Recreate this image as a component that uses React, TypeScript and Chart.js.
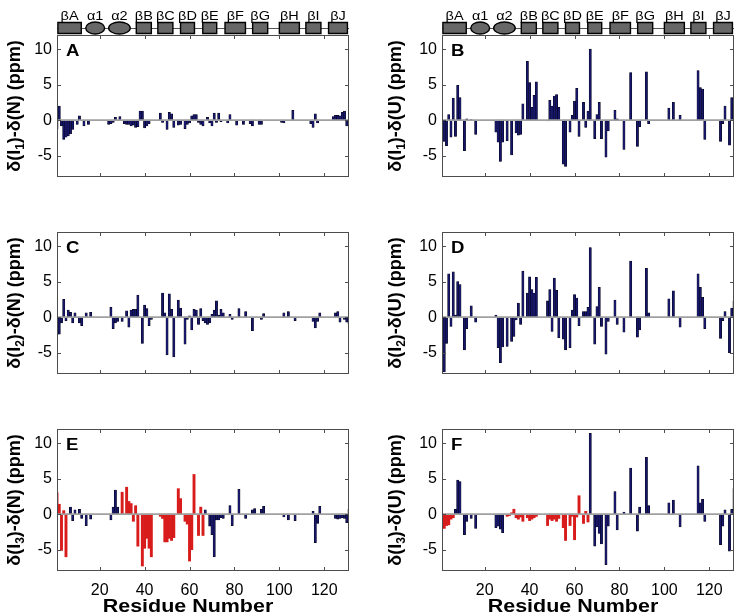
import React, { useEffect, useRef } from 'react';
import { Chart, registerables } from 'chart.js';

Chart.register(...registerables);

const FONT = '"Liberation Sans", Arial, Helvetica, sans-serif';
const NAVY = '#16166a';
const NAVY_EDGE = '#000010';
const RED = '#d81c1c';
const STRETCH = 1.16;

const xTicks = [20, 40, 60, 80, 100, 120];
const yTicks = [-5, 0, 5, 10];
const residueMin = 1;
const residueMax = 131;
const yMin = -8;
const yMax = 12;

// secondary structure elements (residue coordinates)
const ssLabels = ['βA', 'α1', 'α2', 'βB', 'βC', 'βD', 'βE', 'βF', 'βG', 'βH', 'βI', 'βJ'];
const ssStart = [1.4, 13.8, 24.0, 36.3, 45.9, 56.0, 65.9, 75.8, 88.1, 100.0, 111.8, 121.9];
const ssEnd = [11.8, 22.2, 33.6, 43.0, 52.6, 62.2, 72.1, 84.9, 94.8, 108.9, 118.5, 130.3];
const ssShape = ['rect', 'ellipse', 'ellipse', 'rect', 'rect', 'rect', 'rect', 'rect', 'rect', 'rect', 'rect', 'rect'];

// Panel A: δ(I1) - δ(N), residues 1..131
const shiftI1N = [
  -1.2, 2.0, -0.8, -2.7, -2.4, -2.2, -1.9, -1.3, 0, -0.6,
  0.6, 0, -0.8, 0, -0.6, 0, 0, 0, 0, 0,
  0, 0, 0, -0.6, -0.5, -0.3, 0.4, 0, 0.5, 0,
  -0.5, -0.6, -0.6, -0.8, -0.7, -1.0, -0.9, 1.3, 1.3, -1.1,
  -0.8, -0.5, 0, 0, 0, 0, 1.0, -0.3, 0, -1.3,
  1.1, 0.9, -1.0, 0, -0.7, -0.6, 0, -1.2, -0.6, -0.4,
  0.6, 0.8, 0.8, -0.3, -0.6, -0.8, 0, 0.4, -0.4, -0.8,
  1.0, -0.3, 1.0, -0.2, 0, 0, -0.4, 0.8, 0, 0,
  -0.7, 0, 0, -0.6, 0, 0, -0.5, -0.8, 0, 0,
  -0.6, -0.6, 0, 0, 0, 0, 0, 0, 0, 0,
  -0.3, -0.4, 0, 0, 0, 1.4, 0, 0, 0, 0,
  0, 0, 0, -0.5, -1.0, 0.9, -0.4, 0, 0, 0,
  0, 0, 0, 0.5, 0.7, 0.7, 0.6, 1.1, 1.3, -0.8, 0,
];

// Panel B: δ(I1) - δ(U)
const shiftI1U = [
  -2.8, -3.0, -3.6, 0.8, -2.4, 3.1, -2.3, 4.9, 3.2, 0,
  -4.3, 0.2, 0, 0.1, 0, -2.0, 0, 0, 0, 0,
  0, 0, 0, 0, -1.7, -3.1, -5.8, -3.1, 0, -2.9,
  0, -4.9, 0, -1.8, -2.1, -2.0, 2.3, 0, 8.3, 5.3,
  1.8, 3.5, 5.4, 0, 0, 0, 0, -0.1, 2.8, 2.0,
  3.4, 3.6, 1.8, 0, -6.2, -6.5, 0, -1.7, 0.7, 2.7,
  4.5, -2.3, 0, 2.5, -1.0, 1.3, 10.0, 0, -2.6, 0.8,
  2.5, -2.6, 0, -5.2, -1.5, 0, 0, 1.4, 0.2, 0,
  0, -4.1, 0, 0, 6.7, 0, 0, -3.7, -0.9, 0,
  0, 6.8, -0.5, 0, 0, 0, 0, 0, 0, 0,
  0, 1.7, 0, 2.5, 0, 0, 0.7, 0, 0, 0,
  0, 0, 0, 0, 7.0, 4.6, 4.4, -2.7, 0, 0,
  0, 0, 0, 0, -3.0, -0.5, 2.0, 0, -3.5, 3.2, 2.3,
];

// Panel C: δ(I2) - δ(N)
const shiftI2N = [
  -2.5, -2.4, -0.8, 2.5, -0.5, 1.0, 0.7, -0.8, 0.6, 0,
  -0.8, -1.2, 0, 0.6, 0, 0.7, 0, 0, 0, 0,
  0, 0, 0, 0, 1.4, -1.6, -0.8, -0.6, 0, -0.6,
  0, 0.9, -1.4, 1.0, 1.1, 1.1, 3.1, 0, -3.7, 1.7,
  1.2, -1.2, -0.3, 0, 0, 0, 0, 3.4, 0.6, -5.3,
  3.3, 1.1, -5.6, 0, 2.4, 1.3, 0, -3.8, -0.3, 0.2,
  -1.8, 1.1, 1.0, -1.0, 1.2, -0.5, -0.8, -1.0, -0.8, 0.4,
  1.0, 2.3, 0.3, 1.1, 0.6, 0, 0, 0.4, -0.3, 0,
  0, 1.2, 0, 0, 0.8, 0, 0, -1.9, 0, 0,
  0, -0.3, 0.5, 0, 0, 0, 0, 0, 0, 0,
  0, 0.6, 0, 0.8, 0, 0, -0.5, 0, 0, 0,
  0, 0, 0, 0, -0.6, -1.5, -0.6, 0.6, 0, 0,
  0, 0, 0, 0, 0.6, 0.8, -0.7, 0, -0.3, -0.7, -0.9,
];

// Panel D: δ(I2) - δ(U)
const shiftI2U = [
  -3.8, -7.7, -3.7, 6.1, -1.3, 6.4, 0.3, 5.0, 4.6, 0,
  -4.6, -1.6, 0, 1.6, 0, -0.7, 0, 0, 0, 0,
  0, 0, 0, 0, 0.3, -4.3, -6.4, -4.2, 0, -4.1,
  0, -3.4, -2.7, -0.4, 2.0, -1.0, 6.5, 0, 3.4, 5.7,
  3.9, 3.4, 5.6, 0, 0, 0, 0, 2.3, 3.9, -2.0,
  5.5, 3.8, -2.9, 0, -3.1, -4.6, 0, -4.3, 1.0, 3.2,
  2.7, -1.2, 0, 0.8, 0.8, 1.4, 9.8, 0, -3.8, 1.5,
  4.2, -1.3, 0, -5.2, -0.6, 0, 0, 2.4, -1.0, 0,
  0, -2.1, 0, 0, 7.9, 0, 0, -2.8, -1.8, 0,
  0, 6.9, 0.6, 0, 0, 0, 0, 0, 0, 0,
  0, 2.6, 0, 3.7, 0, 0, -1.4, 0, 0, 0,
  0, 0, 0, 0, 6.1, 4.2, 2.8, -1.6, 0, 0,
  0, 0, 0, 0, -3.0, -0.5, 0.8, 0, -5.0, 1.3, 2.3,
];

// Panel E: δ(I3) - δ(N)
const shiftI3N = [
  3.0, 1.4, -5.1, 0.5, -6.0, 0, 1.0, -0.9, 0.6, 0,
  0.7, -0.6, 0, -1.6, 0, -0.7, 0, 0, 0, 0,
  0, 0, 0, 0, -0.8, 1.0, 3.4, 1.0, 0, 3.1,
  0, 3.8, 1.8, 1.5, -1.0, 1.2, -4.5, 0, -7.3, -4.8,
  -3.4, -4.8, -6.0, 0, 0, 0, -0.3, -0.6, -3.9, -3.9,
  -3.4, -3.7, -3.3, 0, 3.6, 2.2, 0, -1.0, -1.4, -6.6,
  -5.0, 5.6, 0, -3.0, 1.0, -3.0, 0.6, 0, -1.7, -2.9,
  -6.0, -0.8, -0.8, -0.5, -0.6, 0, 0, 1.2, -1.6, 0,
  0, 3.5, 0, 0, -0.6, 0, 0, 0.6, 0.8, 0,
  0, 0.7, 1.1, 0, 0, 0, 0, 0, 0, 0,
  0, -0.4, 0, -0.8, 0, 0, -0.9, 0, 0, 0,
  0, 0, 0, 0, 0.4, -4.0, -1.3, 1.1, 0, 0,
  0, 0, 0, 0, -0.6, -0.7, -0.6, -0.5, -0.6, -1.2, 0.7,
];

// Panel F: δ(I3) - δ(U)
const shiftI3U = [
  -2.0, -2.0, -1.6, -1.5, -0.7, -0.5, 0.7, 4.8, 4.6, 0,
  -2.9, -1.0, 0, -0.6, 0, -2.0, 0, 0, 0, 0,
  0, 0, 0, 0, -1.9, -1.7, -2.1, -2.6, 0, -0.3,
  -0.2, 0.2, 0.7, -0.5, -0.7, -0.4, -1.0, 0, -0.5, -0.9,
  -0.7, -0.5, -0.3, 0, 0, 0, 0, -1.6, -0.7, -0.9,
  -0.7, -1.0, -0.6, 0, -1.9, -3.7, 0, -1.6, -0.3, -3.6,
  -0.4, 2.6, 0, -1.3, 0.4, -1.1, 11.4, 0, -4.5, -1.8,
  -2.7, -4.2, 0, -7.1, -1.7, 0, 0, 3.2, -2.2, 0,
  0, 0.3, 0, 0, 6.5, 0, 0, -2.4, 1.0, 0,
  0, 8.0, 1.2, 0, 0, 0, 0, 0, 0, 0,
  0, 1.6, 0, 2.0, 0, 0, -1.8, 0, 0, 0,
  0, 0, 0, 0, 6.8, 1.6, 2.1, -1.0, 0, 0,
  0, 0, 0, 0, -4.3, -1.7, 0.6, 0, -5.2, 0.7, 3.6,
];

// residue ranges drawn in red
const redRangesI3N = [[1, 5], [30, 43], [47, 66]];
const redRangesI3U = [[1, 6], [30, 43], [47, 66]];

function inRanges(r: number, ranges: number[][]) {
  return ranges.some(([a, b]) => r >= a && r <= b);
}

type PanelProps = {
  left: number;
  top: number;
  width: number;
  height: number;
  area: { left: number; top: number; right: number; bottom: number };
  values: number[];
  redRanges: number[][];
  letter: string;
  sub: string;
  refState: string;
  titleX: number;
  header: boolean;
  showX: boolean;
};

function drawStretched(ctx: CanvasRenderingContext2D, text: string, x: number, y: number, font: string, align: CanvasTextAlign) {
  ctx.save();
  ctx.translate(x, y);
  ctx.scale(STRETCH, 1);
  ctx.font = font;
  ctx.textAlign = align;
  ctx.textBaseline = 'alphabetic';
  ctx.fillStyle = '#000';
  ctx.fillText(text, 0, 0);
  ctx.restore();
}

function makePlugin(p: PanelProps) {
  return {
    id: 'decor' + p.letter,
    afterDatasetsDraw(chart: any) {
      const { ctx, chartArea: ca, scales } = chart;
      const y0 = scales.y.getPixelForValue(0);
      ctx.save();
      ctx.strokeStyle = '#a0a0a0';
      ctx.lineWidth = 1.8;
      ctx.beginPath();
      ctx.moveTo(ca.left, y0);
      ctx.lineTo(ca.right, y0);
      ctx.stroke();
      ctx.restore();
    },
    afterDraw(chart: any) {
      const { ctx, chartArea: ca, scales } = chart;
      const xs = scales.x;
      const ys = scales.y;
      ctx.save();
      ctx.strokeStyle = '#4d4d4d';
      ctx.lineWidth = 1;
      ctx.strokeRect(ca.left + 0.5, ca.top + 0.5, ca.right - ca.left - 1, ca.bottom - ca.top - 1);
      ctx.beginPath();
      xs.ticks.forEach((t: any) => {
        const px = Math.round(xs.getPixelForValue(t.value)) + 0.5;
        ctx.moveTo(px, ca.top);
        ctx.lineTo(px, ca.top + 4);
        ctx.moveTo(px, ca.bottom);
        ctx.lineTo(px, ca.bottom - 4);
      });
      ys.ticks.forEach((t: any) => {
        const py = Math.round(ys.getPixelForValue(t.value)) + 0.5;
        ctx.moveTo(ca.left, py);
        ctx.lineTo(ca.left + 4, py);
        ctx.moveTo(ca.right, py);
        ctx.lineTo(ca.right - 4, py);
      });
      ctx.stroke();
      ctx.restore();

      drawStretched(ctx, p.letter, ca.left + 9, ca.top + 21, `bold 16px ${FONT}`, 'left');

      ctx.save();
      ctx.translate(p.titleX, (ca.top + ca.bottom) / 2);
      ctx.rotate(-Math.PI / 2);
      ctx.fillStyle = '#000';
      ctx.textBaseline = 'alphabetic';
      ctx.textAlign = 'left';
      const mainF = `bold 18px ${FONT}`;
      const subF = `bold 12px ${FONT}`;
      const parts = [
        { t: 'δ(I', f: mainF, dy: 0 },
        { t: p.sub, f: subF, dy: 4 },
        { t: `)-δ(${p.refState}) (ppm)`, f: mainF, dy: 0 },
      ];
      let total = 0;
      const widths = parts.map((pt) => {
        ctx.font = pt.f;
        const w = ctx.measureText(pt.t).width;
        total += w;
        return w;
      });
      let cx = -total / 2;
      parts.forEach((pt, i) => {
        ctx.font = pt.f;
        ctx.fillText(pt.t, cx, 6 + pt.dy);
        cx += widths[i];
      });
      ctx.restore();

      if (p.header) {
        ctx.save();
        const lineY = 28;
        ctx.strokeStyle = '#555';
        ctx.lineWidth = 1;
        ctx.beginPath();
        ctx.moveTo(ca.left, lineY + 0.5);
        ctx.lineTo(ca.right, lineY + 0.5);
        ctx.stroke();
        ssLabels.forEach((lab, i) => {
          const x1 = xs.getPixelForValue(ssStart[i]);
          const x2 = xs.getPixelForValue(ssEnd[i]);
          ctx.fillStyle = '#676767';
          ctx.strokeStyle = '#000';
          ctx.lineWidth = 1.4;
          ctx.beginPath();
          if (ssShape[i] === 'ellipse') {
            ctx.ellipse((x1 + x2) / 2, lineY, (x2 - x1) / 2, 6, 0, 0, Math.PI * 2);
          } else {
            ctx.rect(x1, lineY - 5.5, x2 - x1, 11);
          }
          ctx.fill();
          ctx.stroke();
          drawStretched(ctx, lab, (x1 + x2) / 2, 19.5, `12.5px ${FONT}`, 'center');
        });
        ctx.restore();
      }

      if (p.showX) {
        drawStretched(ctx, 'Residue Number', ca.left + 131, p.height - 1, `bold 18.5px ${FONT}`, 'center');
      }
    },
  };
}

function BarPanel(p: PanelProps) {
  const ref = useRef<HTMLCanvasElement>(null);
  useEffect(() => {
    const canvas = ref.current;
    if (!canvas) return;
    const data = p.values.map((v, i) => ({ x: i + 1, y: v === 0 ? null : v }));
    const isRed = p.values.map((_, i) => inRanges(i + 1, p.redRanges));
    const chart = new Chart(canvas, {
      type: 'bar',
      data: {
        datasets: [
          {
            data: data as any,
            backgroundColor: isRed.map((r) => (r ? RED : NAVY)),
            borderColor: isRed.map((r) => (r ? RED : NAVY_EDGE)),
            borderWidth: isRed.map((r) => (r ? 0 : 0.5)),
            borderSkipped: false,
            barPercentage: 1,
            categoryPercentage: 1,
          },
        ],
      },
      options: {
        animation: false,
        responsive: false,
        maintainAspectRatio: false,
        layout: { padding: { top: p.area.top, right: p.width - p.area.right, left: 0, bottom: 0 } },
        plugins: { legend: { display: false }, tooltip: { enabled: false } },
        scales: {
          x: {
            type: 'linear',
            min: residueMin,
            max: residueMax,
            offset: false,
            grid: { display: false, drawTicks: false },
            border: { display: false },
            ticks: {
              display: p.showX,
              font: { family: FONT, size: 16 },
              color: '#000',
              padding: 10,
              maxRotation: 0,
              autoSkip: false,
            },
            afterBuildTicks: (s: any) => {
              s.ticks = xTicks.map((v) => ({ value: v }));
            },
            afterFit: (s: any) => {
              s.height = p.height - p.area.bottom;
            },
          },
          y: {
            min: yMin,
            max: yMax,
            grid: { display: false, drawTicks: false },
            border: { display: false },
            ticks: { font: { family: FONT, size: 16 }, color: '#000', padding: 5 },
            afterBuildTicks: (s: any) => {
              s.ticks = yTicks.map((v) => ({ value: v }));
            },
            afterFit: (s: any) => {
              s.width = p.area.left;
            },
          },
        },
      } as any,
      plugins: [makePlugin(p)],
    });
    return () => chart.destroy();
  }, []);
  return (
    <canvas
      ref={ref}
      width={p.width}
      height={p.height}
      style={{ position: 'absolute', left: p.left, top: p.top, width: p.width, height: p.height, display: 'block' }}
    />
  );
}

export default function App() {
  const L = { left: 0, width: 370, areaL: 57, areaR: 349, titleX: 14 };
  const R = { left: 380, width: 356, areaL: 62, areaR: 354, titleX: 15 };
  const rows = [
    { top: 0, height: 200, aTop: 35, aBottom: 177 },
    { top: 200, height: 200, aTop: 32, aBottom: 174 },
    { top: 400, height: 213, aTop: 29, aBottom: 171 },
  ];
  const panels = [
    { col: L, row: rows[0], values: shiftI1N, red: [], letter: 'A', sub: '1', st: 'N', header: true, showX: false },
    { col: R, row: rows[0], values: shiftI1U, red: [], letter: 'B', sub: '1', st: 'U', header: true, showX: false },
    { col: L, row: rows[1], values: shiftI2N, red: [], letter: 'C', sub: '2', st: 'N', header: false, showX: false },
    { col: R, row: rows[1], values: shiftI2U, red: [], letter: 'D', sub: '2', st: 'U', header: false, showX: false },
    { col: L, row: rows[2], values: shiftI3N, red: redRangesI3N, letter: 'E', sub: '3', st: 'N', header: false, showX: true },
    { col: R, row: rows[2], values: shiftI3U, red: redRangesI3U, letter: 'F', sub: '3', st: 'U', header: false, showX: true },
  ];
  return (
    <div style={{ position: 'fixed', left: 0, top: 0, width: 736, height: 613, background: '#fff', overflow: 'hidden' }}>
      {panels.map((pn) => (
        <BarPanel
          key={pn.letter}
          left={pn.col.left}
          top={pn.row.top}
          width={pn.col.width}
          height={pn.row.height}
          area={{ left: pn.col.areaL, top: pn.row.aTop, right: pn.col.areaR, bottom: pn.row.aBottom }}
          values={pn.values}
          redRanges={pn.red}
          letter={pn.letter}
          sub={pn.sub}
          refState={pn.st}
          titleX={pn.col.titleX}
          header={pn.header}
          showX={pn.showX}
        />
      ))}
    </div>
  );
}
